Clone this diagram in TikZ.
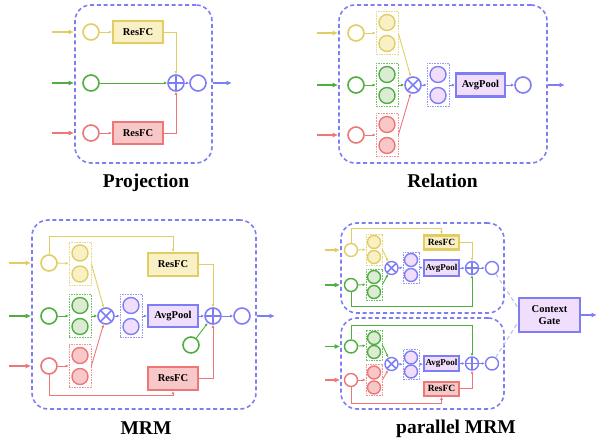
\documentclass[tikz,border=0pt]{standalone}
\usepackage{fontspec}
\setmainfont{Liberation Serif}
\usetikzlibrary{positioning,arrows.meta}

\definecolor{yel}{RGB}{224,206,100}
\definecolor{yelF}{RGB}{250,240,198}
\definecolor{grn}{RGB}{80,174,64}
\definecolor{grnF}{RGB}{220,236,212}
\definecolor{rd}{RGB}{238,118,118}
\definecolor{rdF}{RGB}{248,200,200}
\definecolor{blu}{RGB}{126,126,244}
\definecolor{bluF}{RGB}{240,222,252}

% two stacked feature circles in a dashed box
\newcommand{\pairbox}[7]{%
\node[grp=#4, minimum width=#6+#7, minimum height=2*#5+#6+#7] (#1) at (#2,#3) {};
\node[dot=#4, minimum size=#6] (#1a) at (#2,#3-#5) {};
\node[dot=#4, minimum size=#6] (#1b) at (#2,#3+#5) {};
}

\begin{document}
\begin{tikzpicture}[x=1pt, y=-1pt,
  panel/.style={draw=blu, rectangle, rounded corners=16pt, line width=1.6pt, dash pattern=on 4pt off 2.8pt},
  ring/.style={circle, draw=#1, fill=white, line width=1.6pt, minimum size=16, inner sep=0pt},
  dot/.style={circle, draw=#1, fill=#1F, line width=1.4pt, minimum size=16, inner sep=0pt},
  grp/.style={rectangle, draw=#1!80, dash pattern=on 1.6pt off 1pt, line width=0.7pt, inner sep=0pt},
  blk/.style={rectangle, draw=#1, fill=#1F, line width=2.2pt, inner sep=0pt, font=\bfseries\fontsize{10.5}{12}\selectfont},
  opl/.style={ring=blu, path picture={\draw[blu, line width=1.5pt] (path picture bounding box.north) -- (path picture bounding box.south) (path picture bounding box.west) -- (path picture bounding box.east);}},
  otm/.style={ring=blu, path picture={\draw[blu, line width=1.5pt] (path picture bounding box.north west) -- (path picture bounding box.south east) (path picture bounding box.south west) -- (path picture bounding box.north east);}},
  sm/.style={minimum size=13, line width=1.4pt},
  inarr/.style={draw=#1, line width=1.8pt, -{Latex[length=5.5pt,width=5pt]}},
  lnk/.style={draw=#1, line width=0.9pt, -{Latex[length=3pt,width=2.8pt]}},
  outarr/.style={draw=blu, line width=1.8pt, -{Latex[length=5.5pt,width=5pt]}},
  gate/.style={draw=blu!50, line width=1.1pt, dash pattern=on 4pt off 3pt},
  ttl/.style={font=\bfseries\fontsize{19.5}{22}\selectfont, anchor=base}
]
\useasboundingbox (0,0) rectangle (599,443);

% Projection
\node[panel, minimum width=137, minimum height=158] (P1) at (143.5,84) {};
\node[ring=yel] (p1y) at (91,32) {};
\node[ring=grn] (p1g) at (91,83) {};
\node[ring=rd] (p1r) at (91,133) {};
\node[blk=yel, minimum width=50, minimum height=22] (p1yf) at (138,32) {ResFC};
\node[blk=rd, minimum width=50, minimum height=22] (p1rf) at (138,133) {ResFC};
\node[opl] (p1s) at (176,83) {};
\node[ring=blu] (p1o) at (198,83) {};
\node[ttl] (t1) at (146,187.5) {Projection};

\foreach \c/\n/\y in {yel/y/32, grn/g/83, rd/r/133}{
  \coordinate (p1\n i) at (52,\y);
  \draw[inarr=\c] (p1\n i) -- (p1\n i -| P1.west);
}
\draw[lnk=yel] (p1y) -- (p1yf);
\draw[lnk=rd] (p1r) -- (p1rf);
\draw[lnk=grn] (p1g) -- (p1s);
\draw[lnk=yel] (p1yf) -| (p1s);
\draw[lnk=rd] (p1rf) -| (p1s);
\draw[lnk=blu] (p1s) -- (p1o);
\coordinate (p1x) at (232,83);
\draw[outarr] (p1o -| P1.east) -- (p1x);

% Relation
\node[panel, minimum width=208, minimum height=158] (P2) at (443,84) {};
\node[ring=yel] (r2y) at (356,33) {};
\node[ring=grn] (r2g) at (356,85) {};
\node[ring=rd] (r2r) at (356,135) {};
\pairbox{r2yb}{387}{33}{yel}{10.5}{16}{6}
\pairbox{r2gb}{387}{85}{grn}{10.5}{16}{6}
\pairbox{r2rb}{387}{135}{rd}{10.5}{16}{6}
\node[otm] (r2m) at (413,85) {};
\pairbox{r2pb}{438}{85}{blu}{10.5}{16}{6}
\node[blk=blu, minimum width=49, minimum height=23] (r2avg) at (480.5,85) {AvgPool};
\node[ring=blu] (r2o) at (523,85) {};
\node[ttl] (t2) at (442.5,188) {Relation};

\foreach \c/\n/\y in {yel/y/33, grn/g/85, rd/r/135}{
  \coordinate (r2\n i) at (317,\y);
  \draw[inarr=\c] (r2\n i) -- (r2\n i -| P2.west);
  \draw[lnk=\c] (r2\n) -- (r2\n b);
}
\draw[lnk=yel] (r2yb.east) -- (r2m);
\draw[lnk=grn] (r2gb) -- (r2m);
\draw[lnk=rd] (r2rb.east) -- (r2m);
\draw[lnk=blu] (r2m) -- (r2pb);
\draw[lnk=blu] (r2pb) -- (r2avg);
\draw[lnk=blu] (r2avg) -- (r2o);
\coordinate (r2x) at (565,85);
\draw[outarr] (r2o -| P2.east) -- (r2x);

% MRM
\node[panel, minimum width=224, minimum height=189] (P3) at (144,314.5) {};
\node[ring=yel] (m3y) at (49,263) {};
\node[ring=grn] (m3g) at (49,316) {};
\node[ring=rd] (m3r) at (49,366) {};
\pairbox{m3yb}{80}{263.5}{yel}{10.5}{16}{6}
\pairbox{m3gb}{80}{316}{grn}{10.5}{16}{6}
\pairbox{m3rb}{80}{366}{rd}{10.5}{16}{6}
\node[otm] (m3m) at (106,316) {};
\pairbox{m3pb}{131}{316}{blu}{10.5}{16}{6}
\node[blk=yel, minimum width=50, minimum height=23] (m3yf) at (173,264.5) {ResFC};
\node[blk=blu, minimum width=50, minimum height=22] (m3avg) at (173,316) {AvgPool};
\node[blk=rd, minimum width=50, minimum height=23] (m3rf) at (173,378.5) {ResFC};
\node[opl] (m3s) at (213,316) {};
\node[ring=blu] (m3o) at (242,316) {};
\node[ring=grn] (m3e) at (191,345) {};
\node[ttl] (t3) at (146,434) {MRM};

\foreach \c/\n/\y in {yel/y/263, grn/g/316, rd/r/366}{
  \coordinate (m3\n i) at (9,\y);
  \draw[inarr=\c] (m3\n i) -- (m3\n i -| P3.west);
  \draw[lnk=\c] (m3\n) -- (m3\n b);
}
\draw[lnk=yel] (m3y.north) -- ++(0,-18) -| (m3yf.north);
\draw[lnk=rd] (m3r.south) -- ++(0,21) -| (m3rf.south);
\draw[lnk=yel] (m3yb.east) -- (m3m);
\draw[lnk=grn] (m3gb) -- (m3m);
\draw[lnk=rd] (m3rb.east) -- (m3m);
\draw[lnk=blu] (m3m) -- (m3pb);
\draw[lnk=blu] (m3pb) -- (m3avg);
\draw[lnk=blu] (m3avg) -- (m3s);
\draw[lnk=yel] (m3yf) -| (m3s);
\draw[lnk=rd] (m3rf) -| (m3s);
\draw[lnk=grn] (m3e) -- (m3s);
\draw[lnk=blu] (m3s) -- (m3o);
\coordinate (m3x) at (275,316);
\draw[outarr] (m3o -| P3.east) -- (m3x);

% parallel MRM, upper branch
\node[panel, minimum width=163, minimum height=90] (P4a) at (422.5,268) {};
\node[ring=yel, sm] (ay) at (351,250) {};
\node[ring=grn, sm] (ag) at (351,285) {};
\pairbox{ayb}{374}{249.5}{yel}{7.5}{13}{3}
\pairbox{agb}{374}{284.5}{grn}{7.5}{13}{3}
\node[otm, sm] (am) at (391.5,268) {};
\pairbox{apb}{411}{267.5}{blu}{7.5}{13}{3}
\node[blk=yel, minimum width=35, minimum height=14, font=\bfseries\fontsize{9.5}{11}\selectfont] (ayf) at (441.5,242.5) {ResFC};
\node[blk=blu, minimum width=35, minimum height=16, font=\bfseries\fontsize{9}{11}\selectfont] (aavg) at (441.5,268) {AvgPool};
\node[opl, sm] (as) at (472,268) {};
\node[ring=blu, sm] (ao) at (492,268) {};

% parallel MRM, lower branch
\node[panel, minimum width=163, minimum height=91] (P4b) at (422.5,363.5) {};
\node[ring=grn, sm] (bg) at (351,346.5) {};
\node[ring=rd, sm] (br) at (351,380) {};
\pairbox{bgb}{374}{345}{grn}{7}{13}{3}
\pairbox{brb}{374}{380}{rd}{7.5}{13}{3}
\node[otm, sm] (bm) at (391.5,364) {};
\pairbox{bpb}{411}{364.5}{blu}{7}{13}{3}
\node[blk=blu, minimum width=35, minimum height=15, font=\bfseries\fontsize{9}{11}\selectfont] (bavg) at (441.5,363.5) {AvgPool};
\node[blk=rd, minimum width=35, minimum height=14, font=\bfseries\fontsize{9.5}{11}\selectfont] (brf) at (441.5,388.7) {ResFC};
\node[opl, sm] (bs) at (472,363.5) {};
\node[ring=blu, sm] (bo) at (492,363.5) {};

\node[blk=blu, minimum width=61, minimum height=34, align=center] (cg) at (549.5,315) {Context\\Gate};
\node[ttl] (t4) at (456,433) {parallel MRM};

\foreach \c/\n in {yel/ay, grn/ag}{
  \coordinate (\n i) at (325,0 |- \n);
  \draw[inarr=\c] (\n i) -- (\n i -| P4a.west);
  \draw[lnk=\c] (\n) -- (\n b);
}
\foreach \c/\n in {grn/bg, rd/br}{
  \coordinate (\n i) at (325,0 |- \n);
  \draw[inarr=\c] (\n i) -- (\n i -| P4b.west);
  \draw[lnk=\c] (\n) -- (\n b);
}
\draw[lnk=yel] (ay.north) -- ++(0,-14.5) -| (ayf.north);
\draw[lnk=grn] (ag.south) -- ++(0,14.5) -| (as.south);
\draw[lnk=yel] (ayb.east) -- (am);
\draw[lnk=grn] (agb.east) -- (am);
\draw[lnk=blu] (am) -- (apb);
\draw[lnk=blu] (apb) -- (aavg);
\draw[lnk=blu] (aavg) -- (as);
\draw[lnk=yel] (ayf) -| (as);
\draw[lnk=blu] (as) -- (ao);

\draw[lnk=grn] (bg.north) -- ++(0,-14.3) -| (bs.north);
\draw[lnk=rd] (br.south) -- ++(0,16) -| (brf.south);
\draw[lnk=grn] (bgb.east) -- (bm);
\draw[lnk=rd] (brb.east) -- (bm);
\draw[lnk=blu] (bm) -- (bpb);
\draw[lnk=blu] (bpb) -- (bavg);
\draw[lnk=blu] (bavg) -- (bs);
\draw[lnk=rd] (brf) -| (bs);
\draw[lnk=blu] (bs) -- (bo);

\draw[gate] (ao) -- (cg.167);
\draw[gate] (bo) -- (cg.193);
\coordinate (cgx) at (597,315);
\draw[outarr] (cg) -- (cgx);
\end{tikzpicture}
\end{document}
